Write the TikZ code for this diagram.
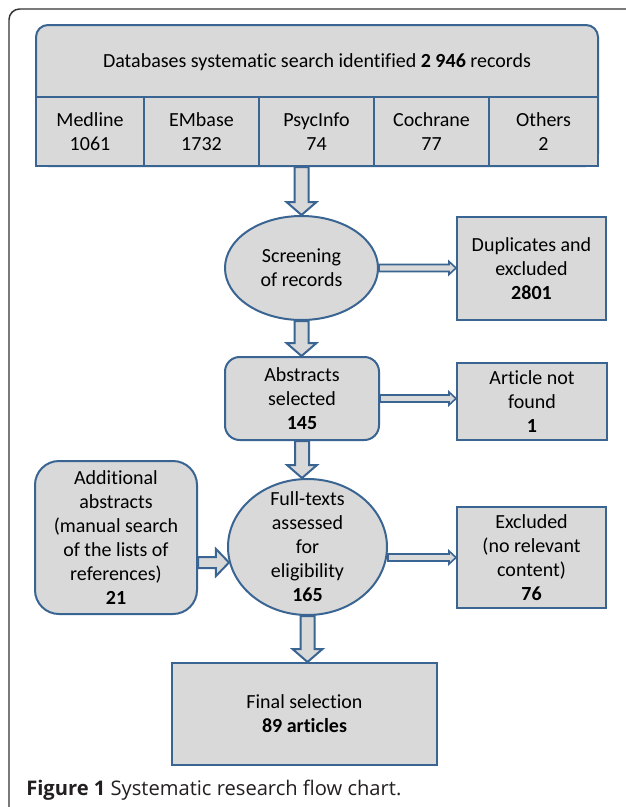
\documentclass[tikz,border=0pt]{standalone}
\usepackage{fontspec}
\setmainfont{Carlito}[Ligatures=NoCommon]
\newfontfamily\capfont{Open Sans}
\usetikzlibrary{shapes.geometric,calc}
\definecolor{edge}{HTML}{3A6592}
\definecolor{boxfill}{HTML}{D9D9D9}
\definecolor{frameline}{HTML}{333333}
\definecolor{captxt}{HTML}{231F20}
\tikzset{
  txt/.style={align=center, inner sep=0pt, font=\fontsize{15}{18}\selectfont},
  box/.style={txt, draw=edge, fill=boxfill, line width=1.5pt},
  cell/.style={box, minimum height=51.75pt},
  ell/.style={box, ellipse, inner sep=-25pt},
  vblock/.style={draw=edge, fill=boxfill, line width=1.5pt, line join=miter,
    to path={let \p1=(\tikztostart), \p2=(\tikztotarget) in
      (\x1-5.25pt,\y1) -- (\x1-5.25pt,\y2+9.75pt) -- (\x1-11.25pt,\y2+9.75pt) -- (\x1,\y2)
      -- (\x1+11.25pt,\y2+9.75pt) -- (\x1+5.25pt,\y2+9.75pt) -- (\x1+5.25pt,\y1) -- cycle}},
  hblock/.style={draw=edge, fill=boxfill, line width=1.5pt, line join=miter,
    to path={let \p1=(\tikztostart), \p2=(\tikztotarget) in
      (\x1,\y1+4.125pt) -- (\x2-9.75pt,\y1+4.125pt) -- (\x2-9.75pt,\y1+10.125pt) -- (\x2,\y1)
      -- (\x2-9.75pt,\y1-10.125pt) -- (\x2-9.75pt,\y1-4.125pt) -- (\x1,\y1-4.125pt) -- cycle}},
  hthin/.style={draw=edge, fill=boxfill, line width=1.2pt, line join=miter,
    to path={let \p1=(\tikztostart), \p2=(\tikztotarget) in
      (\x1,\y1+2.625pt) -- (\x2-5.25pt,\y1+2.625pt) -- (\x2-5.25pt,\y1+4.875pt) -- (\x2,\y1)
      -- (\x2-5.25pt,\y1-4.875pt) -- (\x2-5.25pt,\y1-2.625pt) -- (\x1,\y1-2.625pt) -- cycle}},
}
\begin{document}
\begin{tikzpicture}[x=0.75pt,y=-0.75pt]
\useasboundingbox (0,0) rectangle (625,807);
\fill[white] (0,0) rectangle (625,807);
% outer frame
\draw[frameline, line width=1.1pt, rounded corners=8pt] (627,9) -- (9,9) -- (9,809);

% database box
\node[box, rounded corners=9pt, minimum width=421.5pt, minimum height=105.75pt] (db) at (317,95.5) {};
\node[txt] (dbtitle) at (317,62) {Databases systematic search identified \textbf{2 946} records};
\node[cell, minimum width=81pt]    (medline) at (90,131.5)  {Medline\\1061};
\node[cell, minimum width=86.25pt] (embase)  at (201.5,131.5) {EMbase\\1732};
\node[cell, minimum width=86.25pt] (psyc)    at (316.5,131.5) {PsycInfo\\74};
\node[cell, minimum width=86.25pt] (coch)    at (431.5,131.5) {Cochrane\\77};
\node[cell, minimum width=81.75pt] (others)  at (543.5,131.5) {Others\\2};

% flow nodes
\node[ell, minimum width=114.75pt, minimum height=78pt] (scr) at (301.5,268) {Screening\\of records};
\node[box, minimum width=111.75pt, minimum height=77.25pt] (dup) at (531.5,268.5) {Duplicates and\\excluded\\\textbf{2801}};
\node[box, rounded corners=11pt, minimum width=115.5pt, minimum height=62.25pt] (abs) at (302,398.5) {Abstracts\\selected\\\textbf{145}};
\node[box, minimum width=112.5pt, minimum height=57.75pt] (art) at (532,401.5) {Article not\\found\\\textbf{1}};
\node[ell, minimum width=119.25pt, minimum height=102pt] (full) at (307.5,547) {Full-texts\\assessed\\for\\eligibility\\\textbf{165}};
\node[box, rounded corners=18pt, minimum width=121.5pt, minimum height=114.75pt] (add) at (116,537.5) {Additional\\abstracts\\(manual search\\of the lists of\\references)\\\textbf{21}};
\node[box, minimum width=111.75pt, minimum height=75.75pt] (excl) at (531.5,557.5) {Excluded\\(no relevant\\content)\\\textbf{76}};
\node[box, minimum width=198.75pt, minimum height=76.5pt] (final) at (304.5,714) {Final selection\\\textbf{89 articles}};

% caption
\node[anchor=west, inner sep=0pt, text=captxt, font=\capfont\fontsize{15.1}{17}\selectfont] (cap) at (26,790) {\textbf{Figure 1} Systematic research flow chart.};

% connectors
\draw[vblock] (db.south -| scr.north) to (scr.north);
\draw[vblock] (scr.south) to (abs.north);
\draw[vblock] (abs.south) to (full.north);
\draw[vblock] (full.south) to (final.north);
\draw[hthin] (scr.east) to (dup.west);
\draw[hthin] (abs.east) to (art.west);
\draw[hthin] (full.east |- excl.west) to (excl.west);
\draw[hblock] ($(add.east)+(0,25)$) to (full.191);
\end{tikzpicture}
\end{document}
